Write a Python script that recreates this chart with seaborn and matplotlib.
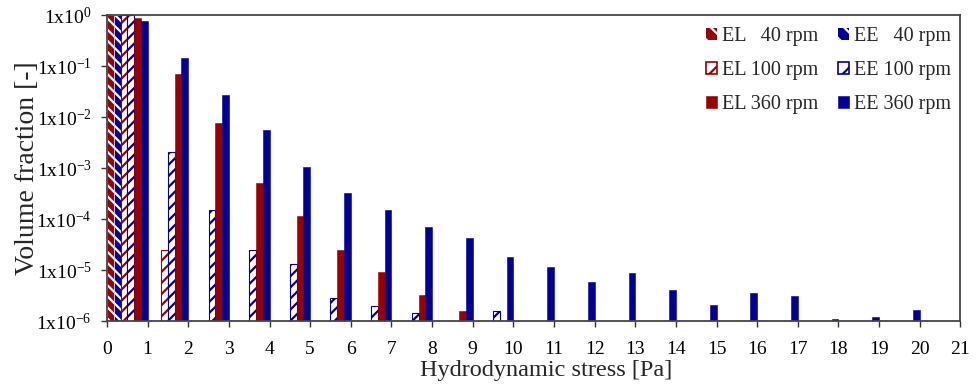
import numpy as np
import pandas as pd
import matplotlib
matplotlib.use("Agg")
import matplotlib.pyplot as plt
import seaborn as sns
from matplotlib.patches import Patch

# ---- data ----
bins = list(range(21))  # lower edge of each 1-Pa stress bin
nan = np.nan
el_40 = [1.0] + [nan] * 20
ee_40 = [1.0] + [nan] * 20
el_100 = [1.0, 2.5e-5] + [nan] * 19
ee_100 = [1.0, 2.1e-3, 1.5e-4, 2.5e-5, 1.3e-5, 2.9e-6, 2.0e-6, 1.45e-6, nan, 1.6e-6] + [nan] * 11
el_360 = [0.86, 0.07, 7.6e-3, 5.2e-4, 1.15e-4, 2.5e-5, 9.2e-6, 3.3e-6, 1.55e-6] + [nan] * 12
ee_360 = [0.77, 0.142, 0.0275, 5.5e-3, 1.05e-3, 3.2e-4, 1.5e-4, 7.0e-5, 4.35e-5, 1.84e-5,
          1.14e-5, 5.9e-6, 8.7e-6, 4.1e-6, 2.1e-6, 3.6e-6, 3.1e-6, 1.12e-6, 1.18e-6, 1.63e-6, nan]
series_labels = ["EL   40 rpm", "EE   40 rpm", "EL 100 rpm", "EE 100 rpm", "EL 360 rpm", "EE 360 rpm"]
x_tick_labels = [str(i) for i in range(22)]
y_tick_values = [1e-6, 1e-5, 1e-4, 1e-3, 1e-2, 1e-1, 1e0]
y_tick_labels = ["1x10$^{-6}$", "1x10$^{-5}$", "1x10$^{-4}$", "1x10$^{-3}$",
                 "1x10$^{-2}$", "1x10$^{-1}$", "1x10$^{0}$"]

series_values = [el_40, ee_40, el_100, ee_100, el_360, ee_360]
rows = []
for lab, vals in zip(series_labels, series_values):
    for b, v in zip(bins, vals):
        rows.append({"bin": b, "series": lab, "value": v})
df = pd.DataFrame(rows)

# ---- style ----
sns.set_theme(style="ticks")
plt.rcParams["font.family"] = ["Liberation Serif", "DejaVu Serif"]
plt.rcParams["mathtext.fontset"] = "custom"
plt.rcParams["mathtext.rm"] = "Liberation Serif"
plt.rcParams["mathtext.it"] = "Liberation Serif:italic"
plt.rcParams["hatch.linewidth"] = 1.6

RED = "#990000"
BLUE = "#000099"
colors = [RED, BLUE, RED, BLUE, RED, BLUE]
styles = ["h40", "h40", "h100", "h100", "solid", "solid"]

fig = plt.figure(figsize=(9.77, 3.85), dpi=100)
ax = fig.add_axes([0.1095, 0.166, 0.8735, 0.795])

sns.barplot(data=df, x="bin", y="value", hue="series", order=bins,
            hue_order=series_labels, palette=colors, errorbar=None,
            width=1.0, ax=ax, legend=False, saturation=1)

ax.set_yscale("log")

for cont, col, st in zip(ax.containers, colors, styles):
    for p in cont.patches:
        if st == "h40":
            p.set_facecolor(col)
            p.set_edgecolor("white")
            p.set_hatch("\\\\\\")
            p.set_linewidth(0.4)
        elif st == "h100":
            p.set_facecolor("white")
            p.set_edgecolor(col)
            p.set_hatch("///")
            p.set_linewidth(0.8)
        else:
            p.set_facecolor(col)
            p.set_edgecolor(col)
            p.set_linewidth(0.4)

ax.set_ylim(1e-6, 1.0)
ax.set_xlim(-0.5, 20.5)
ax.set_xticks(np.arange(22) - 0.5)
ax.set_xticklabels(x_tick_labels)
ax.set_yticks(y_tick_values)
ax.set_yticklabels(y_tick_labels)
ax.yaxis.set_minor_locator(matplotlib.ticker.NullLocator())
ax.tick_params(axis="both", direction="out", length=4, width=1, colors="#333333",
               labelsize=14, labelcolor="black")
ax.tick_params(axis="x", pad=10)
ax.tick_params(axis="y", pad=7)

for s in ax.spines.values():
    s.set_visible(True)
    s.set_color("#444444")
    s.set_linewidth(1.3)

ax.set_xlabel("Hydrodynamic stress [Pa]", fontsize=17.5)
ax.xaxis.set_label_coords(0.515, -0.128)
ax.set_ylabel("Volume fraction [-]", fontsize=20)
ax.yaxis.set_label_coords(-0.078, 0.5)

handles = []
order = [0, 2, 4, 1, 3, 5]
for i in order:
    st, col = styles[i], colors[i]
    if st == "h40":
        h = Patch(facecolor=col, edgecolor="white", hatch="\\\\", linewidth=0)
    elif st == "h100":
        h = Patch(facecolor="white", edgecolor=col, hatch="//", linewidth=1.2)
    else:
        h = Patch(facecolor=col, edgecolor=col, linewidth=0.4)
    handles.append(h)
labels = [series_labels[i] for i in order]
ax.legend(handles, labels, ncol=2, loc="upper right", bbox_to_anchor=(1.010, 1.02),
          frameon=False, fontsize=14.5, handlelength=0.55, handleheight=0.55,
          handletextpad=0.25, columnspacing=0.95, labelspacing=0.75)

fig.savefig("out.png", dpi=100)
